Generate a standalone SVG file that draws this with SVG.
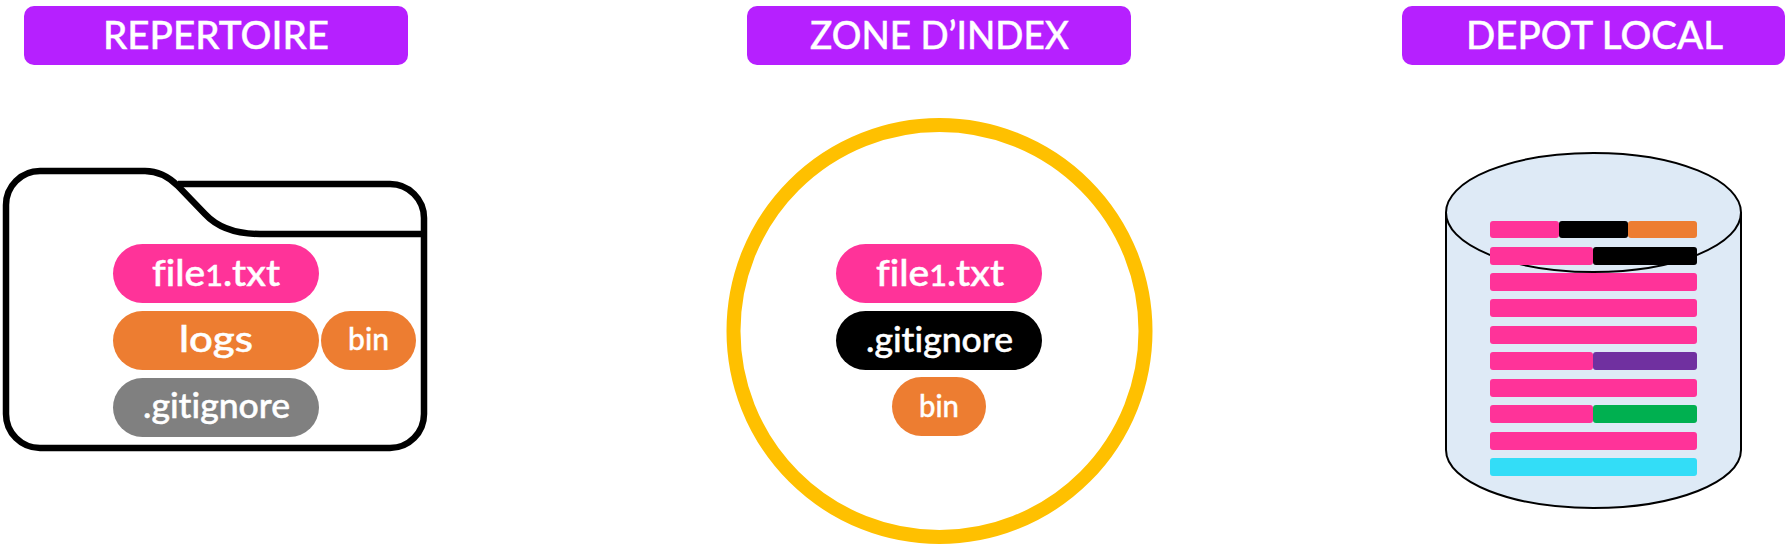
<svg xmlns="http://www.w3.org/2000/svg" width="1785" height="544" viewBox="0 0 1785 544">
<style>
text{font-family:"Lato","Noto Sans","Liberation Sans",sans-serif;fill:#fff;stroke:#fff;font-variant-ligatures:none}
.h{font-size:38px;font-weight:500;stroke-width:.4}
.p{font-size:37px;font-weight:500;stroke-width:.5}
.g{font-size:35px;font-weight:500;stroke-width:.5}
.b{font-size:30px;font-weight:500;stroke-width:.4}
.hd{fill:#b620ff}
.pk{fill:#ff3399}.or{fill:#ed7d31}.gy{fill:#808080}.bk{fill:#000}.pu{fill:#7030a0}.gn{fill:#00b050}.cy{fill:#33ddf7}
.f{fill:none;stroke:#000;stroke-width:6.5;stroke-linejoin:round}
.c{fill:#deeaf6;stroke:#000;stroke-width:2}
</style>
<rect width="1785" height="544" fill="#fff"/>
<g id="header-repertoire"><rect class="hd" x="24" y="6" width="384" height="59" rx="10"/><text class="h" x="103" y="49" textLength="226" lengthAdjust="spacingAndGlyphs">REPERTOIRE</text></g>
<g id="header-index"><rect class="hd" x="747" y="6" width="384" height="59" rx="10"/><text class="h" x="810" y="49" textLength="259" lengthAdjust="spacingAndGlyphs">ZONE D’INDEX</text></g>
<g id="header-depot"><rect class="hd" x="1402" y="6" width="383" height="59" rx="10"/><text class="h" x="1466" y="49" textLength="257" lengthAdjust="spacingAndGlyphs">DEPOT LOCAL</text></g>
<g id="folder">
<path class="f" d="M145 171H40A34 34 0 0 0 6 205V414A34 34 0 0 0 40 448H390A34 34 0 0 0 424 414V218A34 34 0 0 0 390 184H178"/>
<path class="f" d="M145 171C158 171 168 176 178 186L205 214C218 228 236 234 260 234H424"/>
</g>
<g id="repertoire-file1"><rect class="pk" x="113" y="244" width="206" height="59" rx="29.5"/><text class="p" x="152" y="286" textLength="128" lengthAdjust="spacingAndGlyphs">file<tspan font-size="29">1</tspan>.txt</text></g>
<g id="repertoire-logs"><rect class="or" x="113" y="311" width="206" height="59" rx="29.5"/><text class="p" x="179" y="352" textLength="74" lengthAdjust="spacingAndGlyphs">logs</text></g>
<g id="repertoire-bin"><rect class="or" x="321" y="311" width="95" height="59" rx="29.5"/><text class="b" x="348" y="350" textLength="41" lengthAdjust="spacingAndGlyphs">bin</text></g>
<g id="repertoire-gitignore"><rect class="gy" x="113" y="378" width="206" height="59" rx="29.5"/><text class="g" x="143" y="418" textLength="147" lengthAdjust="spacingAndGlyphs">.gitignore</text></g>
<g id="index-circle"><circle cx="939.500" cy="331" r="206" fill="#fff" stroke="#ffc000" stroke-width="14"/></g>
<g id="index-file1"><rect class="pk" x="836" y="244" width="206" height="59" rx="29.5"/><text class="p" x="876" y="286" textLength="128" lengthAdjust="spacingAndGlyphs">file<tspan font-size="29">1</tspan>.txt</text></g>
<g id="index-gitignore"><rect class="bk" x="836" y="311" width="206" height="59" rx="29.5"/><text class="g" x="866" y="352" textLength="147" lengthAdjust="spacingAndGlyphs">.gitignore</text></g>
<g id="index-bin"><rect class="or" x="892" y="377" width="94" height="59" rx="29.5"/><text class="b" x="919" y="417" textLength="40" lengthAdjust="spacingAndGlyphs">bin</text></g>
<g id="depot">
<path class="c" d="M1446 212V450C1446 482 1512 508 1593.500 508S1741 482 1741 450V212"/>
<ellipse class="c" cx="1593.500" cy="212.500" rx="147.500" ry="59.500"/>
</g>
<g id="depot-rows">
<rect class="pk" x="1490" y="221" width="69" height="17" rx="3"/><rect class="bk" x="1559" y="221" width="69" height="17" rx="3"/><rect class="or" x="1628" y="221" width="69" height="17" rx="3"/>
<rect class="pk" x="1490" y="247" width="103" height="18" rx="3"/><rect class="bk" x="1593" y="247" width="104" height="18" rx="3"/>
<rect class="pk" x="1490" y="273" width="207" height="18" rx="3"/>
<rect class="pk" x="1490" y="299" width="207" height="18" rx="3"/>
<rect class="pk" x="1490" y="326" width="207" height="18" rx="3"/>
<rect class="pk" x="1490" y="352" width="103" height="18" rx="3"/><rect class="pu" x="1593" y="352" width="104" height="18" rx="3"/>
<rect class="pk" x="1490" y="379" width="207" height="18" rx="3"/>
<rect class="pk" x="1490" y="405" width="103" height="18" rx="3"/><rect class="gn" x="1593" y="405" width="104" height="18" rx="3"/>
<rect class="pk" x="1490" y="432" width="207" height="18" rx="3"/>
<rect class="cy" x="1490" y="458" width="207" height="18" rx="3"/>
</g>
<g id="connectors"/>
</svg>
